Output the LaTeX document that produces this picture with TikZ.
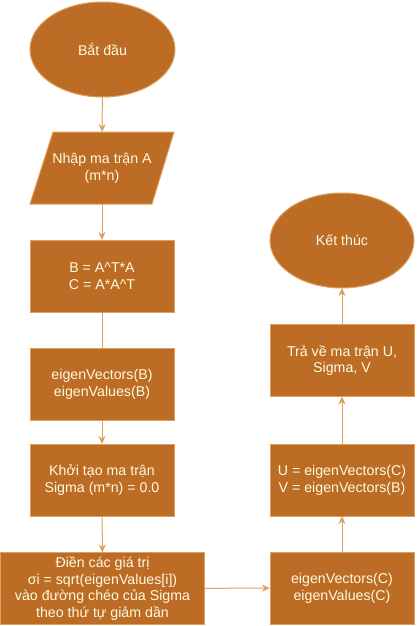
\documentclass[tikz,border=0pt]{standalone}
\usepackage{fontspec}
\setmainfont{Liberation Sans}
\usetikzlibrary{shapes.geometric,arrows.meta,backgrounds}
\definecolor{boxfill}{HTML}{BC6C25}
\definecolor{boxline}{HTML}{DDA15E}
\definecolor{boxtext}{HTML}{FEFAE0}
\tikzset{
  base/.style={draw=boxline, fill=boxfill, text=boxtext, line width=1pt, align=center,
    font=\fontsize{14.2}{16.9}\selectfont, inner sep=0pt, outer sep=0pt},
  procbox/.style={base, rectangle, minimum width=144pt, minimum height=72pt},
  termnode/.style={base, ellipse, minimum width=145pt, minimum height=95pt},
  iobox/.style={base, rectangle, draw=none, fill=none, minimum width=144pt, minimum height=72pt},
  conn/.style={draw=boxline, line width=1pt, -{Stealth[length=8pt,width=7pt,inset=2.5pt]}},
  plainconn/.style={draw=boxline, line width=1pt},
}
\begin{document}
\begin{tikzpicture}[x=1pt, y=-1pt]
\useasboundingbox (0,0) rectangle (416,626);
\node[termnode] (start) at (102.5,49.5) {Bắt đầu};
\node[iobox] (inp) at (102,168) {Nhập ma trận A\\(m*n)};
\begin{scope}[on background layer]
  \draw[draw=boxline, fill=boxfill, line width=1pt]
    ([xshift=23pt]inp.north west) -- (inp.north east)
    -- ([xshift=-22pt]inp.south east) -- (inp.south west) -- cycle;
\end{scope}
\node[procbox] (bc) at (102,276) {B = A\^{}T*A\\C = A*A\^{}T};
\node[procbox] (eigb) at (102,384) {eigenVectors(B)\\eigenValues(B)};
\node[procbox] (init) at (102,480) {Khởi tạo ma trận\\Sigma (m*n) = 0.0};
\node[procbox, minimum width=204pt] (fillsig) at (102.5,588.5) {Điền các giá trị\\σi = sqrt(eigenValues[i])\\vào đường chéo của Sigma\\theo thứ tự giảm dần};
\node[procbox] (eigc) at (342,588) {eigenVectors(C)\\eigenValues(C)};
\node[procbox] (uv) at (342,480) {U = eigenVectors(C)\\V = eigenVectors(B)};
\node[procbox] (ret) at (342,360.5) {Trả về ma trận U,\\Sigma, V};
\node[termnode, minimum width=144pt] (stop) at (342,240.5) {Kết thúc};

\draw[conn] (start) -- (inp);
\draw[conn] (inp) -- (bc);
\draw[plainconn] (bc) -- (eigb);
\draw[conn] (eigb) -- (init);
\draw[conn] (init) -- (fillsig);
\draw[conn] (fillsig) -- (eigc);
\draw[conn] (eigc) -- (uv);
\draw[conn] (uv) -- (ret);
\draw[conn] (ret) -- (stop);
\end{tikzpicture}
\end{document}
